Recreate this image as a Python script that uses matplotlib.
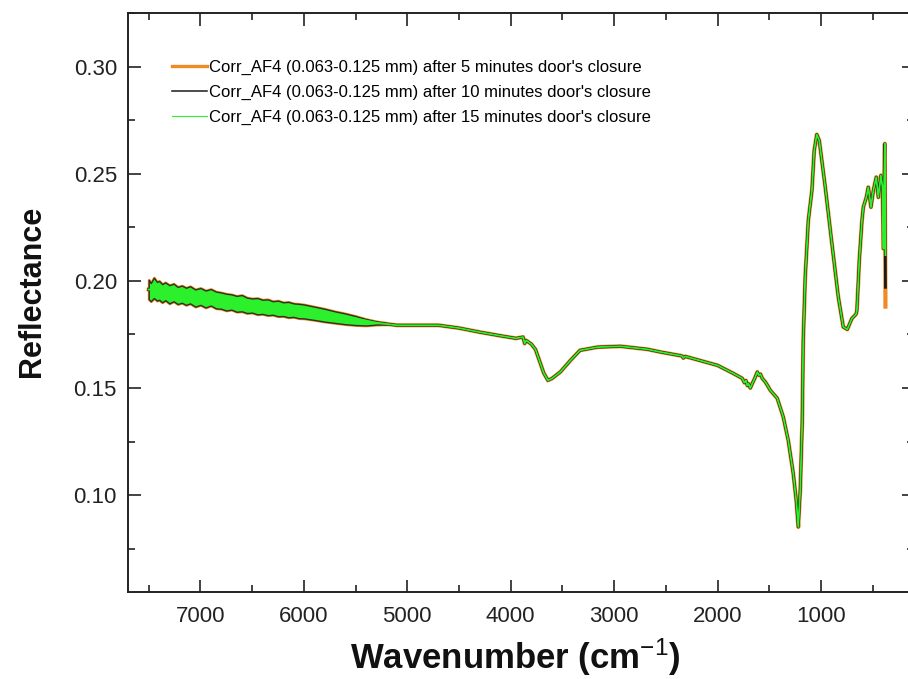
import matplotlib
matplotlib.use('Agg')
import matplotlib.pyplot as plt
from matplotlib.lines import Line2D
from matplotlib.ticker import MultipleLocator, FormatStrFormatter

# fonts: Arial-like
plt.rcParams['font.family'] = ['Liberation Sans', 'DejaVu Sans']
plt.rcParams['mathtext.fontset'] = 'custom'
plt.rcParams['mathtext.rm'] = 'Liberation Sans'
plt.rcParams['mathtext.bf'] = 'Liberation Sans:bold'
plt.rcParams['mathtext.default'] = 'rm'

# spectrum (cm-1, reflectance); the three runs overlap almost everywhere
wn_common = [7500, 7300, 7100, 6900, 6700, 6500, 6300, 6100, 5900, 5700, 5500, 5300,
             5100, 4900, 4700, 4500, 4300, 4100, 3950, 3880, 3865, 3850, 3800, 3760,
             3720, 3680, 3640, 3600, 3520, 3420, 3330, 3160, 2940, 2680, 2550, 2345,
             2330, 2315, 2000, 1850, 1760, 1740, 1725, 1712, 1700, 1683, 1660, 1640,
             1615, 1600, 1585, 1567, 1540, 1520, 1490, 1422, 1364, 1316, 1268, 1239,
             1219, 1200, 1181, 1171, 1152, 1122, 1087, 1065, 1040, 1016, 958, 894,
             832, 784, 745, 700, 660, 652, 629, 603, 590, 561, 542, 516, 493, 465,
             445, 420, 405, 395, 388, 382]
refl_common = [0.1960, 0.1950, 0.1935, 0.1925, 0.1905, 0.1890, 0.1882, 0.1870, 0.1855, 0.1840, 0.1825, 0.1805,
               0.1793, 0.1793, 0.1793, 0.1780, 0.1761, 0.1744, 0.1732, 0.1738, 0.1708, 0.1722, 0.1705, 0.1680,
               0.1625, 0.1570, 0.1536, 0.1545, 0.1575, 0.1630, 0.1676, 0.1691, 0.1695, 0.1681, 0.1668, 0.1650,
               0.1640, 0.1648, 0.1606, 0.1569, 0.1545, 0.1525, 0.1535, 0.1512, 0.1520, 0.1500, 0.1525, 0.1545,
               0.1575, 0.1560, 0.1565, 0.1545, 0.1530, 0.1515, 0.1490, 0.1452, 0.1365, 0.1256, 0.1103, 0.0977,
               0.0852, 0.1023, 0.1335, 0.1722, 0.2018, 0.2282, 0.2422, 0.2608, 0.2683, 0.2655, 0.2437, 0.2175,
               0.1925, 0.1785, 0.1774, 0.1825, 0.1845, 0.1862, 0.2096, 0.2282, 0.2344, 0.2390, 0.2437, 0.2344, 0.2422, 0.2484,
               0.2390, 0.2492, 0.2440, 0.2150, 0.2470, 0.2640]
wn_end = 376
end_5min = 0.188
end_10min = 0.197
end_15min = 0.212

# noisy band in the near-IR part (upper / lower edge of the scatter)
wn_band = [7500, 7480, 7450, 7420, 7400, 7370, 7340, 7300, 7260, 7220, 7180, 7140, 7100, 7050,
           7000, 6950, 6900, 6850, 6800, 6750, 6700, 6650, 6600, 6550, 6500, 6450, 6400, 6350,
           6300, 6250, 6200, 6150, 6100, 6050, 6000, 5900, 5800, 5700, 5600, 5500, 5400, 5300, 5200]
band_upper = [0.2005, 0.1990, 0.2015, 0.1995, 0.2000, 0.1985, 0.1993, 0.1980, 0.1987, 0.1972, 0.1978, 0.1968, 0.1975, 0.1960,
              0.1967, 0.1955, 0.1962, 0.1950, 0.1946, 0.1940, 0.1937, 0.1930, 0.1934, 0.1922, 0.1918, 0.1920, 0.1912, 0.1914,
              0.1905, 0.1908, 0.1900, 0.1902, 0.1895, 0.1893, 0.1890, 0.1880, 0.1870, 0.1858, 0.1848, 0.1836, 0.1822, 0.1811, 0.1803]
band_lower = [0.1915, 0.1905, 0.1920, 0.1908, 0.1912, 0.1900, 0.1910, 0.1895, 0.1905, 0.1892, 0.1898, 0.1888, 0.1895, 0.1880,
              0.1888, 0.1876, 0.1885, 0.1872, 0.1870, 0.1862, 0.1866, 0.1856, 0.1858, 0.1850, 0.1852, 0.1844, 0.1846, 0.1840,
              0.1842, 0.1835, 0.1836, 0.1830, 0.1832, 0.1826, 0.1825, 0.1818, 0.1810, 0.1804, 0.1798, 0.1794, 0.1792, 0.1796, 0.1797]

labels = ["Corr_AF4 (0.063-0.125 mm) after 5 minutes door's closure",
          "Corr_AF4 (0.063-0.125 mm) after 10 minutes door's closure",
          "Corr_AF4 (0.063-0.125 mm) after 15 minutes door's closure"]
c_orange = '#f08a24'
c_black = '#1a1a1a'
c_green = '#2cf02c'

fig = plt.figure(figsize=(9.08, 6.79), dpi=100)
# right spine sits just outside the picture, as in the original
ax = fig.add_axes([0.141, 0.1286, 0.8656, 0.8523])

wn = wn_common + [wn_end]
ax.plot(wn, refl_common + [end_5min], color=c_orange, lw=3.0, zorder=3)
ax.plot(wn, refl_common + [end_10min], color=c_black, lw=2.0, zorder=4)
ax.plot(wn, refl_common + [end_15min], color=c_green, lw=1.3, zorder=6)

ax.fill_between(wn_band, band_lower, band_upper, facecolor=c_orange, edgecolor=c_orange, lw=2.0, zorder=2)
ax.fill_between(wn_band, band_lower, band_upper, facecolor=c_green, edgecolor='#303020', lw=1.0, zorder=5)

ax.set_xlim(7700, 100)
ax.set_ylim(0.055, 0.325)
ax.xaxis.set_major_locator(MultipleLocator(1000))
ax.xaxis.set_minor_locator(MultipleLocator(500))
ax.yaxis.set_major_locator(MultipleLocator(0.05))
ax.yaxis.set_minor_locator(MultipleLocator(0.025))
ax.yaxis.set_major_formatter(FormatStrFormatter('%.2f'))

ax.tick_params(which='both', direction='in', top=True, right=True, width=1.2, colors='#222222')
ax.tick_params(which='major', length=9, labelsize=16)
ax.tick_params(axis='y', which='major', pad=8)
ax.tick_params(axis='x', which='major', pad=10)
ax.tick_params(which='minor', length=5)
for s in ax.spines.values():
    s.set_linewidth(1.4)
    s.set_color('#222222')

ax.set_xlabel('Wavenumber (cm$^{-1}$)', fontsize=25, fontweight='bold', color='#111111')
ax.set_ylabel('Reflectance', fontsize=22, fontweight='bold', color='#111111')
ax.xaxis.set_label_coords(0.4924, -0.0775)
ax.yaxis.set_label_coords(-0.1037, 0.5196)

# legend keys drawn thinner than the plotted traces, as in the original
handles = [Line2D([], [], color=c_orange, lw=2.4),
           Line2D([], [], color=c_black, lw=1.1),
           Line2D([], [], color=c_green, lw=0.8)]
ax.legend(handles, labels, loc='upper left', bbox_to_anchor=(0.056, 0.9188),
          frameon=False, borderaxespad=0, borderpad=0, fontsize=12,
          handlelength=2.07, handletextpad=0.12, labelspacing=0.6)

fig.savefig('out.png', dpi=100)
